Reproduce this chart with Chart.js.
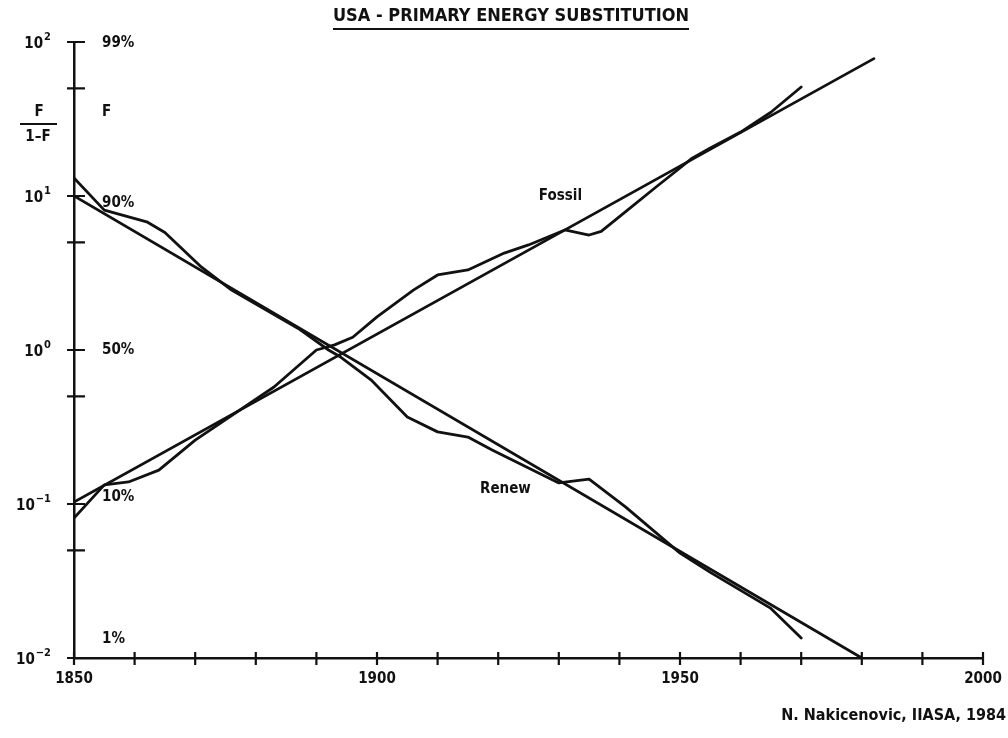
<!DOCTYPE html>
<html>
<head>
<meta charset="utf-8">
<script src="https://cdn.jsdelivr.net/npm/chart.js@4/dist/chart.umd.min.js"></script>
<style>
  html, body { margin: 0; padding: 0; background: #fff; }
  #wrap { width: 1008px; height: 738px; }
</style>
</head>
<body>
<div id="wrap"><canvas id="chart" width="1008" height="738"></canvas></div>
<script>
// USA - primary energy substitution, F/(1-F) on a log scale

const fossilYears = [1850, 1855, 1859, 1864, 1870, 1883, 1890, 1893, 1896, 1900, 1906, 1910, 1915, 1921, 1925, 1931, 1935, 1937, 1942, 1946, 1950, 1952, 1955, 1960, 1965, 1970];
const fossilRatio = [0.081, 0.133, 0.139, 0.166, 0.26, 0.575, 1.0, 1.08, 1.21, 1.64, 2.45, 3.07, 3.31, 4.26, 4.81, 6.02, 5.58, 5.9, 8.49, 11.4, 15.2, 17.6, 20.5, 26, 35, 51];

const renewYears = [1850, 1855, 1862, 1865, 1871, 1876, 1887, 1892, 1894, 1899, 1905, 1910, 1915, 1919, 1924, 1930, 1935, 1941, 1950, 1955, 1965, 1970];
const renewRatio = [13.1, 8.1, 6.8, 5.8, 3.46, 2.45, 1.38, 1.0, 0.9, 0.64, 0.367, 0.294, 0.272, 0.224, 0.179, 0.137, 0.145, 0.0957, 0.048, 0.036, 0.021, 0.0135];

// logistic fits, straight lines here
const fossilFitYears = [1850, 1982];
const fossilFitRatio = [0.103, 78];
const renewFitYears = [1850, 1980];
const renewFitRatio = [10, 0.01];

const yTicks = [0.01, 0.05, 0.1, 0.5, 1, 5, 10, 50, 100];
const xLabelYears = [1850, 1900, 1950, 2000];
const shareLabels = ["99%", "90%", "50%", "10%", "1%"];
const shareValues = [0.99, 0.9, 0.5, 0.1, 0.01];

const FONT = "'DejaVu Sans Condensed', 'DejaVu Sans', sans-serif";

const toPoints = (xs, ys) => xs.map((x, i) => ({ x: x, y: ys[i] }));

const lineStyle = {
  borderColor: "#111",
  borderWidth: 2.8,
  pointRadius: 0,
  tension: 0,
  borderJoinStyle: "round",
  borderCapStyle: "round",
  fill: false,
};

// tick marks crossing the axis lines, and the 10^n labels
const crossTicks = {
  id: "crossTicks",
  afterDraw(chart) {
    const { ctx, scales: { x, y } } = chart;
    ctx.save();
    ctx.strokeStyle = "#111";
    ctx.fillStyle = "#111";
    ctx.lineWidth = 2.2;
    ctx.beginPath();
    x.ticks.forEach((t) => {
      const px = x.getPixelForValue(t.value);
      ctx.moveTo(px, y.bottom - 6);
      ctx.lineTo(px, y.bottom + 7);
    });
    y.ticks.forEach((t) => {
      const py = y.getPixelForValue(t.value);
      ctx.moveTo(x.left - 7, py);
      ctx.lineTo(x.left + 11, py);
    });
    ctx.stroke();

    ctx.textBaseline = "alphabetic";
    y.ticks.forEach((t) => {
      const e = Math.round(Math.log10(t.value));
      if (Math.abs(Math.log10(t.value) - e) > 1e-6) return;
      const py = y.getPixelForValue(t.value);
      const expo = e < 0 ? "\u2212" + Math.abs(e) : String(e);
      ctx.font = "bold 11px " + FONT;
      const ew = ctx.measureText(expo).width;
      ctx.textAlign = "left";
      ctx.fillText(expo, 51 - ew, py - 2);
      ctx.font = "bold 15px " + FONT;
      ctx.textAlign = "right";
      ctx.fillText("10", 50 - ew, py + 6);
    });
    ctx.restore();
  },
};

// title, share labels, curve names, credit
const notes = {
  id: "notes",
  afterDraw(chart) {
    const { ctx, scales: { x, y } } = chart;
    ctx.save();
    ctx.fillStyle = "#111";
    ctx.strokeStyle = "#111";
    ctx.textBaseline = "middle";

    // title with underline
    ctx.font = "bold 18px " + FONT;
    ctx.textAlign = "center";
    const title = "USA - PRIMARY ENERGY SUBSTITUTION";
    ctx.fillText(title, 511, 16);
    const tw = ctx.measureText(title).width;
    ctx.lineWidth = 2;
    ctx.beginPath();
    ctx.moveTo(511 - tw / 2, 29);
    ctx.lineTo(511 + tw / 2, 29);
    ctx.stroke();

    // share of fossil, next to the axis
    ctx.font = "bold 15px " + FONT;
    ctx.textAlign = "left";
    shareLabels.forEach((lab, i) => {
      const f = shareValues[i];
      let py = y.getPixelForValue(f / (1 - f));
      if (py > y.bottom - 10) py -= 18;
      ctx.fillText(lab, x.left + 28, py);
    });
    ctx.fillText("F", x.left + 28, 112);

    // F / (1-F)
    ctx.textAlign = "center";
    ctx.fillText("F", 39, 112);
    ctx.fillText("1\u2013F", 38, 137);
    ctx.lineWidth = 2;
    ctx.beginPath();
    ctx.moveTo(20, 124);
    ctx.lineTo(57, 124);
    ctx.stroke();

    // curve names
    ctx.textAlign = "left";
    ctx.fillText("Fossil", x.getPixelForValue(1926.7), y.getPixelForValue(10));
    ctx.fillText("Renew", x.getPixelForValue(1917), y.getPixelForValue(0.125));

    // credit
    ctx.font = "bold 16px " + FONT;
    ctx.textAlign = "right";
    ctx.fillText("N. Nakicenovic, IIASA, 1984", 1006, 716);
    ctx.restore();
  },
};

const ctx = document.getElementById("chart").getContext("2d");

const chart = new Chart(ctx, {
  type: "line",
  data: {
    datasets: [
      { label: "Fossil", data: toPoints(fossilYears, fossilRatio), ...lineStyle },
      { label: "Renew", data: toPoints(renewYears, renewRatio), ...lineStyle },
      { label: "Fossil fit", data: toPoints(fossilFitYears, fossilFitRatio), ...lineStyle },
      { label: "Renew fit", data: toPoints(renewFitYears, renewFitRatio), ...lineStyle },
    ],
  },
  options: {
    responsive: false,
    animation: false,
    layout: { padding: { top: 42, right: 25, left: 0, bottom: 0 } },
    plugins: {
      legend: { display: false },
      tooltip: { enabled: false },
      title: { display: false },
    },
    scales: {
      x: {
        type: "linear",
        min: 1850,
        max: 2000,
        grid: { display: false, drawTicks: false },
        border: { display: true, color: "#111", width: 2.5 },
        ticks: {
          stepSize: 10,
          autoSkip: false,
          maxRotation: 0,
          padding: 12,
          color: "#111",
          font: { family: FONT, size: 15, weight: "bold" },
          callback: (v) => (xLabelYears.includes(v) ? String(v) : ""),
        },
        afterFit: (s) => {
          s.height = 80;
          s.paddingLeft = 0;
          s.paddingRight = 0;
        },
      },
      y: {
        type: "logarithmic",
        min: 0.01,
        max: 100,
        grid: { display: false, drawTicks: false },
        border: { display: true, color: "#111", width: 2.5 },
        afterBuildTicks: (s) => {
          s.ticks = yTicks.map((v) => ({ value: v }));
        },
        ticks: { display: false },
        afterFit: (s) => {
          s.width = 74;
        },
      },
    },
  },
  plugins: [crossTicks, notes],
});
</script>
</body>
</html>
